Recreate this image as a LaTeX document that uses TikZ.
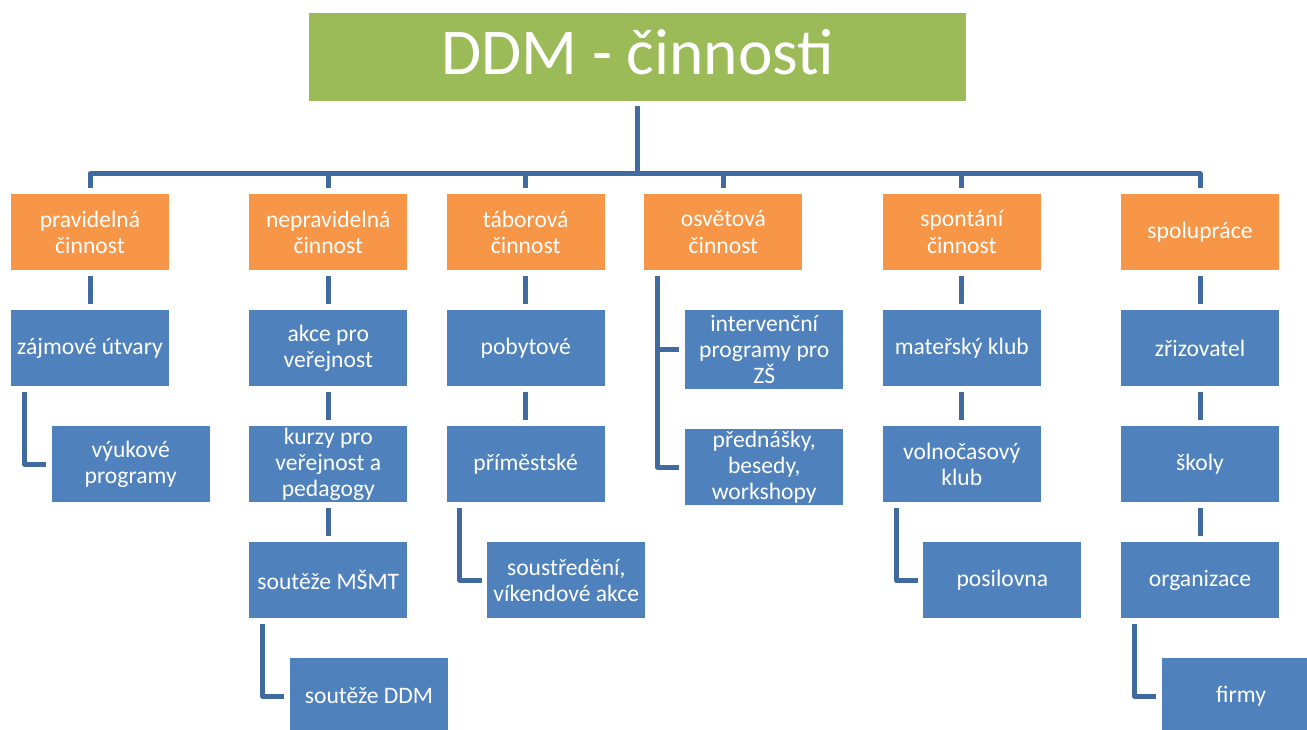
\documentclass[tikz,border=0pt]{standalone}
\usepackage{fontspec}
\setmainfont{Carlito}
\usetikzlibrary{calc}
\definecolor{ddmgreen}{HTML}{9BBB59}
\definecolor{ddmorange}{HTML}{F79646}
\definecolor{ddmblue}{HTML}{4F81BD}
\definecolor{ddmline}{HTML}{416A9F}
\tikzset{
  basebox/.style={inner sep=0pt, minimum width=118.5pt, minimum height=57pt,
    align=center, text=white, font=\fontsize{17.7}{19.6}\selectfont},
  catbox/.style={basebox, fill=ddmorange},
  itembox/.style={basebox, fill=ddmblue},
  rootbox/.style={fill=ddmgreen, inner sep=0pt, minimum width=492.75pt,
    minimum height=66pt, text=white, text height=26.2pt, text depth=0pt,
    font=\fontsize{49}{54}\selectfont},
  conn/.style={draw=ddmline, line width=3.75pt, line join=round}
}
\begin{document}
\begin{tikzpicture}[x=0.75pt,y=-0.75pt]
\useasboundingbox (0,0) rectangle (1307,729);
% root
\node[rootbox] (root) at (637.5,57) {DDM - činnosti};
% categories
\node[catbox] (o1) at (90,232) {pravidelná\\činnost};
\node[catbox] (o2) at (328.3,232) {nepravidelná\\činnost};
\node[catbox] (o3) at (525.7,232) {táborová\\činnost};
\node[catbox] (o4) at (723.4,232) {osvětová\\činnost};
\node[catbox] (o5) at (961.8,232) {spontání\\činnost};
\node[catbox] (o6) at (1200,232) {spolupráce};
% column 1
\node[itembox] (a1) at (90,348) {zájmové útvary};
\node[itembox] (a2) at (130.7,464) {výukové\\programy};
% column 2
\node[itembox] (b1) at (328.3,348) {akce pro\\veřejnost};
\node[itembox] (b2) at (328.3,464) {kurzy pro\\veřejnost a\\pedagogy};
\node[itembox] (b3) at (328.3,580) {soutěže MŠMT};
\node[itembox] (b4) at (369,696) {soutěže DDM};
% column 3
\node[itembox] (c1) at (525.7,348) {pobytové};
\node[itembox] (c2) at (525.7,464) {příměstské};
\node[itembox] (c3) at (566.3,580) {soustředění,\\víkendové akce};
% column 4
\node[itembox, minimum height=59.25pt] (d1) at (764.2,349.5) {intervenční\\programy pro\\ZŠ};
\node[itembox] (d2) at (764.2,467) {přednášky,\\besedy,\\workshopy};
% column 5
\node[itembox] (e1) at (961.8,348) {mateřský klub};
\node[itembox] (e2) at (961.8,464) {volnočasový\\klub};
\node[itembox] (e3) at (1002.4,580) {posilovna};
% column 6
\node[itembox] (f1) at (1200,348) {zřizovatel};
\node[itembox] (f2) at (1200,464) {školy};
\node[itembox] (f3) at (1200,580) {organizace};
\node[itembox] (f4) at (1241,696) {firmy};
% root to categories
\foreach \o in {o1,o2,o3,o4,o5,o6}{
  \draw[conn] ($(root.south)+(0,5)$) |- ($(\o.north)+(0,-20)$) -- ($(\o.north)+(0,-6)$);
}
% straight connectors
\foreach \p/\c in {o1/a1, o2/b1, b1/b2, b2/b3, o3/c1, c1/c2, o5/e1, e1/e2, o6/f1, f1/f2, f2/f3}{
  \draw[conn] ($(\p.south)+(0,6)$) -- ($(\c.north)+(0,-6)$);
}
% elbow connectors
\foreach \p/\c in {a1/a2, b3/b4, c2/c3, e2/e3, f3/f4, o4/d1, o4/d2}{
  \draw[conn] ($(\p.south west)+(13.5,6)$) |- ($(\c.west)+(-5.5,0)$);
}
\end{tikzpicture}
\end{document}
